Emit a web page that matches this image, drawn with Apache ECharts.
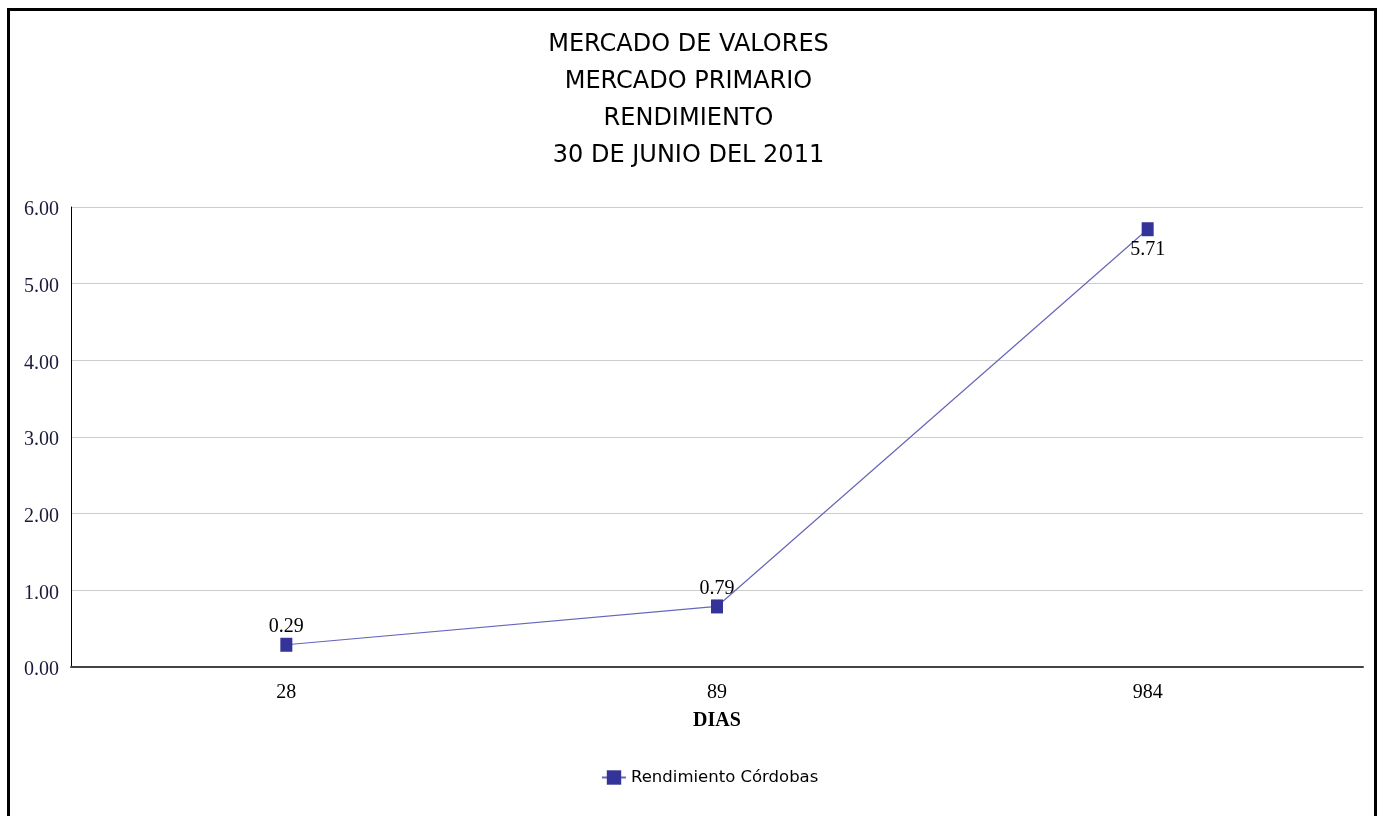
<!DOCTYPE html>
<html>
<head>
<meta charset="utf-8">
<script src="https://cdn.jsdelivr.net/npm/echarts@6/dist/echarts.min.js"></script>
<style>
  html, body { margin: 0; padding: 0; background: #fff; }
  #chart { width: 1377px; height: 816px; }
</style>
</head>
<body>
<div id="chart"></div>
<script>
// datos
var dias = ['28', '89', '984']
var rendimientoCordobas = [0.29, 0.79, 5.71]
var labelPos = ['top', 'top', 'bottom']
var titulo = ['MERCADO DE VALORES', 'MERCADO PRIMARIO', 'RENDIMIENTO', '30 DE JUNIO DEL 2011']

var chart = echarts.init(document.getElementById('chart'))

chart.setOption({
  backgroundColor: '#fff',
  animation: false,
  graphic: [{
    type: 'rect',
    shape: { x: 8.5, y: 9.5, width: 1367, height: 900 },
    style: { fill: 'none', stroke: '#000', lineWidth: 3 },
    silent: true
  }],
  title: {
    text: titulo.join('\n'),
    left: 'center',
    top: 21,
    textStyle: {
      fontFamily: 'DejaVu Sans',
      fontWeight: 'normal',
      fontSize: 24,
      lineHeight: 37,
      color: '#000'
    }
  },
  legend: {
    bottom: 25,
    left: 596,
    itemWidth: 24,
    itemHeight: 18,
    itemGap: 6,
    textStyle: {
      fontFamily: 'DejaVu Sans',
      fontSize: 16.5,
      color: '#000'
    },
    data: ['Rendimiento Córdobas']
  },
  grid: {
    left: 71,
    right: 14,
    top: 207,
    bottom: 149
  },
  xAxis: {
    type: 'category',
    data: dias,
    name: 'DIAS',
    nameLocation: 'middle',
    nameGap: 44,
    nameTextStyle: {
      fontFamily: 'Liberation Serif',
      fontWeight: 'bold',
      fontSize: 20,
      color: '#000'
    },
    axisLine: { lineStyle: { color: '#444', width: 2 } },
    axisTick: { show: false },
    axisLabel: {
      margin: 16,
      fontFamily: 'Liberation Serif',
      fontSize: 20,
      color: '#000'
    }
  },
  yAxis: {
    type: 'value',
    min: 0,
    max: 6,
    interval: 1,
    axisLine: { show: true, lineStyle: { color: '#000', width: 1 } },
    axisTick: { show: false },
    axisLabel: {
      margin: 12,
      verticalAlign: 'top',
      lineHeight: 6,
      fontFamily: 'Liberation Serif',
      fontSize: 20,
      color: '#1a1a3a',
      formatter: function (v) { return v.toFixed(2) }
    },
    splitLine: { lineStyle: { color: '#cccccc', width: 1 } }
  },
  series: [{
    name: 'Rendimiento Córdobas',
    type: 'line',
    data: rendimientoCordobas.map(function (v, i) {
      return { value: v, label: { position: labelPos[i], distance: labelPos[i] === 'bottom' ? 4 : 1 } }
    }),
    symbol: 'rect',
    symbolSize: [12, 14],
    lineStyle: { color: '#6666bb', width: 1.2 },
    itemStyle: { color: '#333399' },
    label: {
      show: true,
      fontFamily: 'Liberation Serif',
      fontSize: 20,
      color: '#000',
      formatter: function (p) { return p.value.toFixed(2) }
    }
  }]
})
</script>
</body>
</html>
